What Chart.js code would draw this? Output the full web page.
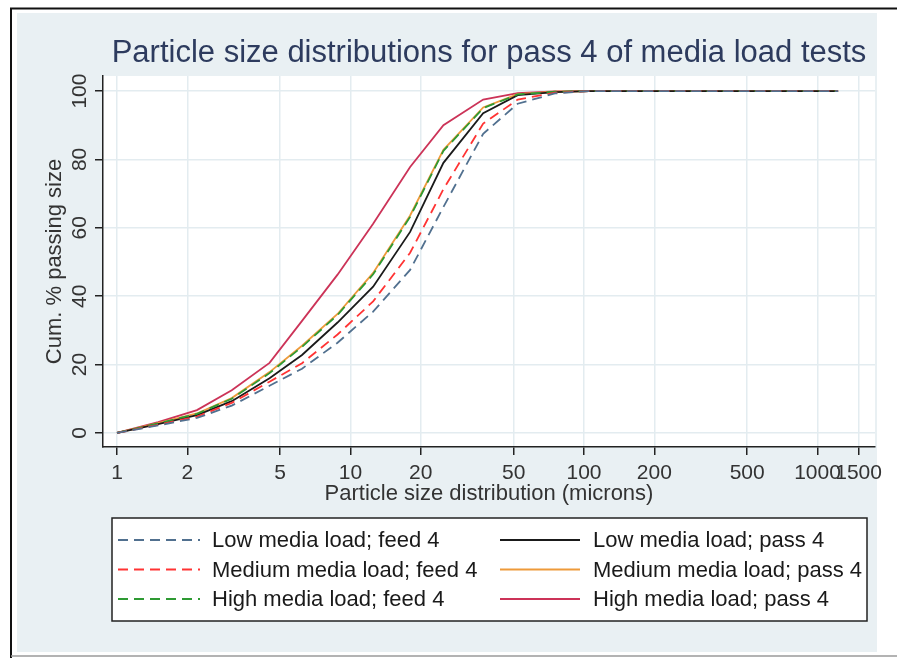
<!DOCTYPE html>
<html>
<head>
<meta charset="utf-8">
<script src="https://cdn.jsdelivr.net/npm/chart.js@4/dist/chart.umd.min.js"></script>
<style>
  html, body { margin: 0; padding: 0; background: #ffffff; }
  canvas { display: block; }
</style>
</head>
<body>
<canvas id="psd" width="897" height="658"></canvas>
<script>
// Sieve sizes (microns) at which the cumulative % passing was measured
const sizes = [1, 1.5, 2.2, 3.1, 4.5, 6.2, 8.8, 12.5, 18, 25, 37, 52, 75, 105, 150, 210, 300, 420, 600, 850, 1225];

// Cumulative % passing, one array per test
const lowFeed  = [0, 2.2, 4.4, 8.0, 13.8, 18.8, 26.4, 35.5, 47.7, 66.1, 87.5, 96.3, 99.3, 100, 100, 100, 100, 100, 100, 100, 100];
const medFeed  = [0, 2.4, 4.8, 8.8, 15.0, 20.4, 28.8, 38.5, 52.7, 71.3, 90.5, 97.5, 99.5, 100, 100, 100, 100, 100, 100, 100, 100];
const highFeed = [0, 2.8, 5.6, 10.0, 17.5, 25.2, 34.5, 46.4, 63.2, 82.5, 95.0, 99.0, 99.8, 100, 100, 100, 100, 100, 100, 100, 100];
const lowPass  = [0, 2.6, 5.2, 9.3, 16.0, 22.8, 32.3, 42.8, 58.8, 79.0, 93.5, 98.8, 99.7, 100, 100, 100, 100, 100, 100, 100, 100];
const medPass  = [0, 2.9, 5.7, 10.2, 17.8, 25.5, 34.8, 46.8, 63.6, 82.8, 95.2, 99.1, 99.8, 100, 100, 100, 100, 100, 100, 100, 100];
const highPass = [0, 3.2, 6.7, 12.5, 20.5, 32.8, 46.3, 61.2, 77.8, 90.0, 97.5, 99.4, 99.9, 100, 100, 100, 100, 100, 100, 100, 100];

// Axis tick values
const xTicks = [1, 2, 5, 10, 20, 50, 100, 200, 500, 1000, 1500];
const yTicks = [0, 20, 40, 60, 80, 100];

const FONT = "'Liberation Sans', Arial, Helvetica, sans-serif";
Chart.defaults.font.family = FONT;

const toPoints = vals => sizes.map((s, i) => ({ x: s, y: vals[i] }));

function series(label, vals, color, dashed) {
  return {
    label,
    data: toPoints(vals),
    borderColor: color,
    backgroundColor: color,
    borderWidth: 1.8,
    borderDash: dashed ? [10, 6] : [],
    pointRadius: 0,
    tension: 0,
    fill: false
  };
}

// Background panel, outer frame, rotated y tick labels and the two-column key
const decor = {
  id: 'decor',
  beforeDraw(chart) {
    const { ctx, chartArea: a } = chart;
    ctx.save();
    ctx.fillStyle = '#ffffff';
    ctx.fillRect(0, 0, chart.width, chart.height);
    ctx.fillStyle = '#e9f0f3';
    ctx.fillRect(17, 13, 860, 639);
    ctx.fillStyle = '#ffffff';
    ctx.fillRect(a.left, a.top, a.right - a.left, a.bottom - a.top);
    ctx.strokeStyle = '#111111';
    ctx.lineWidth = 2;
    ctx.beginPath();
    ctx.moveTo(10, 8.5); ctx.lineTo(897, 8.5);
    ctx.moveTo(11, 8); ctx.lineTo(11, 658);
    ctx.stroke();
    ctx.strokeStyle = '#9a9a9a';
    ctx.lineWidth = 1.5;
    ctx.beginPath();
    ctx.moveTo(11, 656); ctx.lineTo(897, 656);
    ctx.stroke();
    ctx.restore();
  },
  afterDraw(chart) {
    const { ctx } = chart;
    const yScale = chart.scales.y;
    ctx.save();
    // vertical tick labels on the y axis
    ctx.fillStyle = '#333333';
    ctx.font = '21px ' + FONT;
    ctx.textAlign = 'center';
    ctx.textBaseline = 'middle';
    yScale.ticks.forEach(t => {
      const py = yScale.getPixelForValue(t.value);
      ctx.save();
      ctx.translate(80, py);
      ctx.rotate(-Math.PI / 2);
      ctx.fillText(String(t.value), 0, 0);
      ctx.restore();
    });

    // key: feed tests in the left column, pass tests in the right column
    const box = { x: 112, y: 518, w: 755, h: 103 };
    ctx.fillStyle = '#ffffff';
    ctx.fillRect(box.x, box.y, box.w, box.h);
    ctx.strokeStyle = '#222222';
    ctx.lineWidth = 1.5;
    ctx.strokeRect(box.x, box.y, box.w, box.h);
    const rows = [540, 569.5, 599];
    const cols = [
      { x0: 118, x1: 200, tx: 212 },
      { x0: 500, x1: 580, tx: 593 }
    ];
    ctx.font = '22px ' + FONT;
    ctx.textAlign = 'left';
    ctx.textBaseline = 'middle';
    chart.data.datasets.forEach((ds, i) => {
      const col = cols[Math.floor(i / 3)];
      const y = rows[i % 3];
      ctx.strokeStyle = ds.borderColor;
      ctx.lineWidth = ds.borderWidth;
      ctx.setLineDash(ds.borderDash);
      ctx.beginPath();
      ctx.moveTo(col.x0, y); ctx.lineTo(col.x1, y);
      ctx.stroke();
      ctx.setLineDash([]);
      ctx.fillStyle = '#1a1a1a';
      ctx.fillText(ds.label, col.tx, y + 1);
    });
    ctx.restore();
  }
};

new Chart(document.getElementById('psd'), {
  type: 'line',
  data: {
    datasets: [
      series('Low media load; feed 4', lowFeed, '#51708f', true),
      series('Medium media load; feed 4', medFeed, '#ff3333', true),
      series('High media load; feed 4', highFeed, '#2e9a33', true),
      series('Low media load; pass 4', lowPass, '#1a1a1a', false),
      series('Medium media load; pass 4', medPass, '#ee9a3a', false),
      series('High media load; pass 4', highPass, '#cc3358', false)
    ]
  },
  options: {
    responsive: false,
    animation: false,
    devicePixelRatio: 1,
    layout: { padding: { left: 10, right: 22, top: 0, bottom: 151 } },
    plugins: {
      legend: { display: false },
      tooltip: { enabled: false },
      title: {
        display: true,
        fullSize: false,
        text: 'Particle size distributions for pass 4 of media load tests',
        color: '#2d3b5e',
        font: { size: 31, weight: 'normal', family: FONT },
        padding: { top: 35, bottom: 3.8 }
      }
    },
    scales: {
      x: {
        type: 'logarithmic',
        min: 0.871,
        max: 1763,
        afterBuildTicks: s => { s.ticks = xTicks.map(v => ({ value: v })); },
        afterFit: s => { s.height = 60; s.paddingLeft = 0; s.paddingRight = 0; },
        ticks: {
          autoSkip: false,
          maxRotation: 0,
          minRotation: 0,
          padding: 6,
          color: '#333333',
          font: { size: 21 },
          callback: v => String(v)
        },
        grid: {
          color: '#e3ecf0',
          lineWidth: 1.5,
          tickColor: '#222222',
          tickLength: 8,
          tickWidth: 1.5
        },
        border: { color: '#222222', width: 1.5 },
        title: {
          display: true,
          text: 'Particle size distribution (microns)',
          color: '#333333',
          font: { size: 22 },
          padding: { top: 0, bottom: 0 }
        }
      },
      y: {
        min: -4.1,
        max: 104.4,
        afterBuildTicks: s => { s.ticks = yTicks.map(v => ({ value: v })); },
        afterFit: s => { s.width = 93; s.paddingTop = 0; s.paddingBottom = 0; },
        ticks: { display: false },
        grid: {
          color: '#e3ecf0',
          lineWidth: 1.5,
          tickColor: '#222222',
          tickLength: 8,
          tickWidth: 1.5
        },
        border: { color: '#222222', width: 1.5 },
        title: {
          display: true,
          text: 'Cum. % passing size',
          color: '#333333',
          font: { size: 22 },
          padding: { top: 32, bottom: 0 }
        }
      }
    }
  },
  plugins: [decor]
});
</script>
</body>
</html>
